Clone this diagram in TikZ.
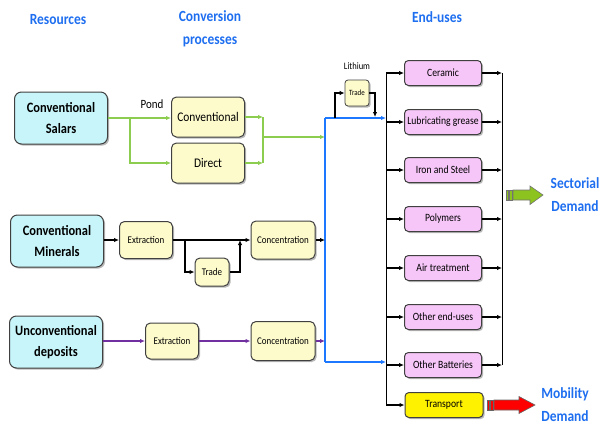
\documentclass[tikz,border=0pt]{standalone}
\usepackage{fontspec}
\setmainfont{Carlito}[FakeStretch=0.87]
\usetikzlibrary{arrows.meta,shadows}
\definecolor{cyanbox}{RGB}{200,245,250}
\definecolor{yelbox}{RGB}{253,251,204}
\definecolor{pinkbox}{RGB}{246,198,248}
\definecolor{ttl}{RGB}{30,110,240}
\definecolor{gline}{RGB}{140,205,80}
\definecolor{bline}{RGB}{30,120,255}
\definecolor{pline}{RGB}{112,48,160}
\definecolor{garrow}{RGB}{140,195,30}
\begin{document}
\begin{tikzpicture}[x=1pt,y=-1pt,
  box/.style={draw=black!75, line width=1pt, drop shadow={shadow xshift=1.6pt,shadow yshift=-1.6pt,fill=black!55}, align=center, inner sep=1pt},
  res/.style={box, rounded corners=7pt, fill=cyanbox, minimum width=93pt, minimum height=52pt, font=\bfseries\fontsize{14.3}{20.5}\selectfont},
  proc/.style={box, rounded corners=5pt, fill=yelbox, font=\fontsize{10.3}{11}\selectfont},
  bigproc/.style={box, rounded corners=5pt, fill=yelbox, minimum width=73pt, minimum height=40pt, font=\fontsize{13.2}{14}\selectfont},
  enduse/.style={box, rounded corners=4pt, fill=pinkbox, minimum width=77pt, minimum height=25pt, font=\fontsize{11.1}{12}\selectfont},
  ttlstyle/.style={text=ttl, font=\bfseries\fontsize{15.5}{23}\selectfont, align=center},
  arr/.style={-{Latex[length=5pt,width=4.5pt]}},
  kl/.style={black, line width=1.2pt},
  gl/.style={gline, line width=1.5pt},
  bl/.style={bline, line width=1.5pt},
  pl/.style={pline, line width=1.3pt}
]
\useasboundingbox (0,0) rectangle (600,426);

% titles
\node[ttlstyle] (t1) at (58,20) {Resources};
\node[ttlstyle] (t2) at (210,29) {Conversion\\processes};
\node[ttlstyle] (t3) at (437,17) {End-uses};
\node[ttlstyle] (t4) at (575,194.5) {Sectorial\\Demand};
\node[ttlstyle] (t5) at (565,405) {Mobility\\Demand};

% resources
\node[res] (sal) at (61,118) {Conventional\\Salars};
\node[res] (min) at (57,241) {Conventional\\Minerals};
\node[res] (unc) at (56,342) {Unconventional\\deposits};

% conversion
\node[bigproc] (conv) at (208,117) {Conventional};
\node[bigproc] (dir) at (208,163) {Direct};
\node[font=\fontsize{12.6}{13}\selectfont] (pond) at (152,104) {Pond};

\node[proc, minimum width=53pt, minimum height=37pt] (ex1) at (146,240) {Extraction};
\node[proc, minimum width=34pt, minimum height=28pt] (tr1) at (212,272) {Trade};
\node[proc, minimum width=64pt, minimum height=38pt] (co1) at (283,240) {Concentration};

\node[proc, minimum width=53pt, minimum height=36pt] (ex2) at (172,341) {Extraction};
\node[proc, minimum width=64pt, minimum height=39pt] (co2) at (283,341) {Concentration};

\node[proc, rounded corners=3pt, line width=0.8pt, minimum width=24pt, minimum height=26pt, font=\fontsize{8}{9}\selectfont] (tr2) at (357,93) {Trade};
\node[font=\fontsize{9.8}{10}\selectfont] (lith) at (357,66) {Lithium};

% end uses
\node[enduse] (e1) at (443,73) {Ceramic};
\node[enduse] (e2) at (443,122) {Lubricating grease};
\node[enduse] (e3) at (443,170) {Iron and Steel};
\node[enduse] (e4) at (443,219) {Polymers};
\node[enduse] (e5) at (443,268) {Air treatment};
\node[enduse] (e6) at (443,317) {Other end-uses};
\node[enduse] (e7) at (443,365) {Other Batteries};
\node[enduse, fill=yellow, minimum width=78pt] (e8) at (444,405) {Transport};

% coordinates
\coordinate (gs) at (130,118);
\coordinate (gj) at (263,137);
\coordinate (bt) at (325,118);
\coordinate (bb) at (325,362);
\coordinate (busT) at (386,73);
\coordinate (busB) at (386,405);
\coordinate (outT) at (502,73);
\coordinate (outB) at (502,365);
\coordinate (lb) at (335,118);
\coordinate (ld) at (375,117);
\coordinate (ts) at (185,240);
\coordinate (tj) at (240,240);

% green connectors
\draw[gl,arr] (sal.east |- gs) -- (conv.west |- gs);
\draw[gl,arr] (gs) |- (dir.west);
\draw[gl,arr] (conv.east) -- (conv.east -| gj);
\draw[gl,arr] (dir.east) -- (dir.east -| gj);
\draw[gl] (conv.east -| gj) -- (dir.east -| gj);
\draw[gl,arr] (gj) -- (gj -| bt);

% blue connectors
\draw[bl] (bt) -- (bb);
\draw[bl,arr] (bt) -- (bt -| busT);
\draw[bl,arr] (bb) -- (bb -| busT);

% lithium trade
\draw[kl,arr] (lb) |- (tr2.west);
\draw[kl,arr] (tr2.east) -| (ld);

% minerals
\draw[kl,arr] (min.east |- ex1.west) -- (ex1.west);
\draw[kl,arr] (ex1.east) -- (co1.west);
\draw[kl,arr] (ts) |- (tr1.west);
\draw[kl,arr] (tr1.east) -| (tj);
\draw[kl,arr] (co1.east) -- (co1.east -| bt);

% unconventional
\draw[pl,arr] (unc.east |- ex2.west) -- (ex2.west);
\draw[pl,arr] (ex2.east) -- (co2.west);
\draw[pl,arr] (co2.east) -- (co2.east -| bt);

% bus
\draw[kl, line width=0.8pt] (busT) -- (busB);
\draw[kl, line width=0.8pt] (outT) -- (outB);
\foreach \e in {e1,e2,e3,e4,e5,e6,e7,e8}{
  \draw[kl,arr] (\e.west -| busT) -- (\e.west);
}
\foreach \e in {e1,e2,e3,e4,e5,e6,e7}{
  \draw[kl,arr] (\e.east) -- (\e.east -| outT);
}

% sectorial arrow
\draw[black!55, line width=0.6pt, fill=garrow] (506,190) rectangle (508,200);
\draw[black!55, line width=0.6pt, fill=garrow] (509,190) rectangle (512,200);
\draw[black!55, line width=0.6pt, fill=garrow] (513,190) -- (530,190) -- (530,186) -- (543,195) -- (530,204.5) -- (530,200) -- (513,200) -- cycle;

% mobility arrow
\draw[black!60, line width=0.6pt, fill=red] (487,400) rectangle (489,410);
\draw[black!60, line width=0.6pt, fill=red] (490,400) rectangle (493,410);
\draw[black!60, line width=0.6pt, fill=red] (494,400) -- (519,400) -- (519,396.5) -- (535,405) -- (519,413.5) -- (519,410) -- (494,410) -- cycle;
\end{tikzpicture}
\end{document}
